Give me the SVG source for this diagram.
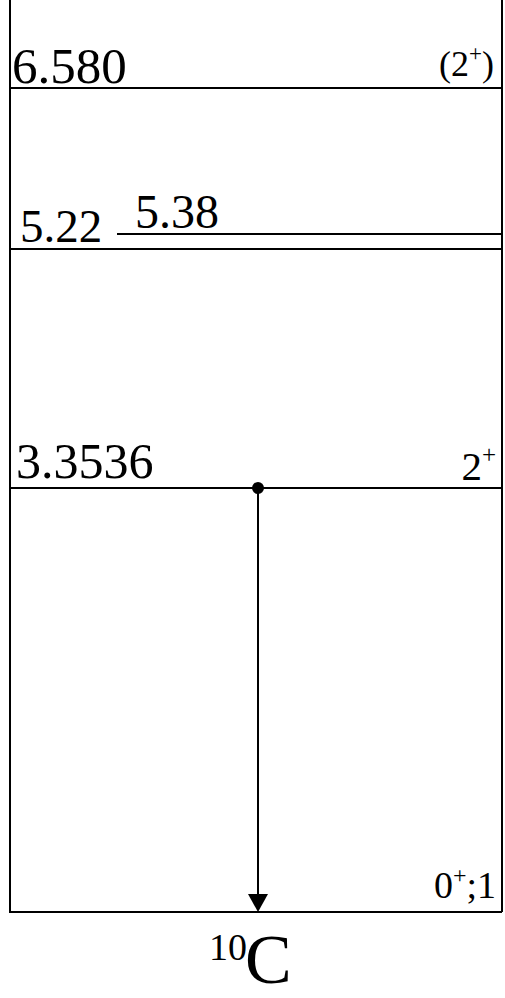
<svg xmlns="http://www.w3.org/2000/svg" width="505" height="998" viewBox="0 0 505 998">
<style>
.lv{stroke:#000;stroke-width:2;fill:none}
.t{font-family:"Liberation Serif","Times New Roman",serif;fill:#000}
</style>
<rect width="505" height="998" fill="#fff"/>
<g id="frame">
<line class="lv" x1="10" y1="0" x2="10" y2="912"/>
<line class="lv" x1="502" y1="0" x2="502" y2="912"/>
</g>
<g id="level-6580">
<line class="lv" x1="10" y1="88" x2="502" y2="88"/>
<text class="t" x="12" y="83" font-size="51">6.580</text>
<text class="t" x="494" y="76" font-size="36" text-anchor="end">(2<tspan font-size="23" dy="-15">+</tspan><tspan dy="15">)</tspan></text>
</g>
<g id="level-538">
<line class="lv" x1="117" y1="234" x2="502" y2="234"/>
<text class="t" x="135" y="228" font-size="48">5.38</text>
</g>
<g id="level-522">
<line class="lv" x1="10" y1="249" x2="502" y2="249"/>
<text class="t" x="20" y="242" font-size="47">5.22</text>
</g>
<g id="level-33536">
<line class="lv" x1="10" y1="488" x2="502" y2="488"/>
<text class="t" x="16" y="478" font-size="50">3.3536</text>
<text class="t" x="496" y="480" font-size="41" text-anchor="end">2<tspan font-size="25" dy="-17">+</tspan></text>
</g>
<g id="level-ground">
<line class="lv" x1="9" y1="912" x2="502" y2="912"/>
<text class="t" x="496" y="898" font-size="38" text-anchor="end">0<tspan font-size="24" dy="-15">+</tspan><tspan dy="15">;1</tspan></text>
</g>
<g id="connectors">
<circle cx="258" cy="488" r="6" fill="#000"/>
<line class="lv" x1="258" y1="488" x2="258" y2="897"/>
<polygon points="248,894 268,894 258,912" fill="#000"/>
</g>
<g id="nucleus">
<text class="t" x="209" y="960" font-size="38">10</text>
<text class="t" x="245" y="983" font-size="70">C</text>
</g>
</svg>
